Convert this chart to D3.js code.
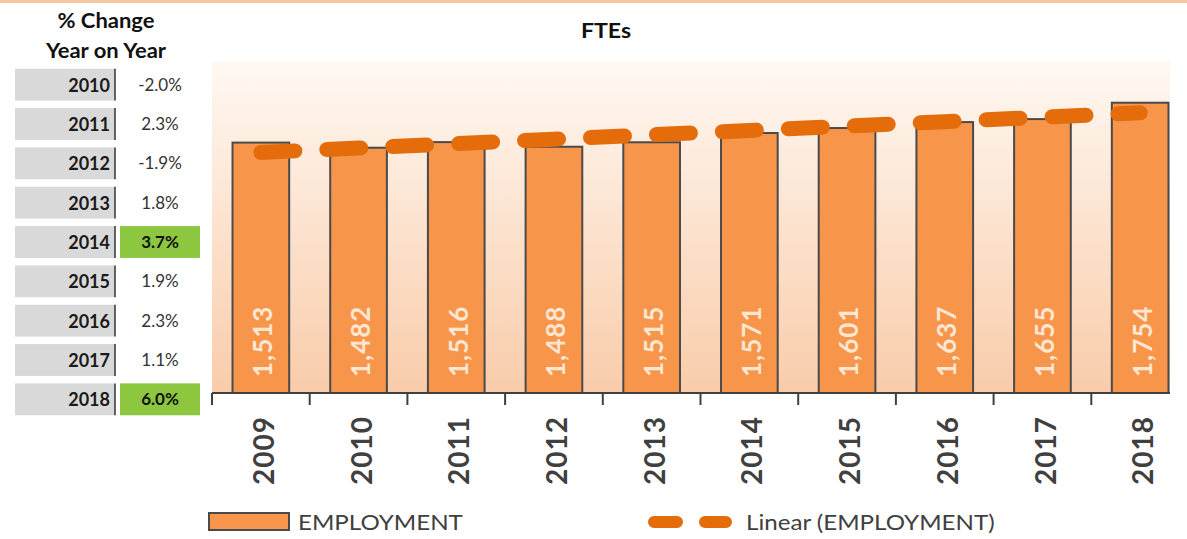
<!DOCTYPE html>
<html>
<head>
<meta charset="utf-8">
<script src="https://cdn.jsdelivr.net/npm/d3@7"></script>
<style>
  body { margin: 0; background: #fff; }
  svg text { font-family: Lato, "Open Sans", sans-serif; }
</style>
</head>
<body>
<div id="chart"></div>
<script>
(function() {
  // chart data
  var years = ["2009", "2010", "2011", "2012", "2013", "2014", "2015", "2016", "2017", "2018"]
  var employment = [1513, 1482, 1516, 1488, 1515, 1571, 1601, 1637, 1655, 1754]

  // % change table
  var changeYears = ["2010", "2011", "2012", "2013", "2014", "2015", "2016", "2017", "2018"]
  var changeValues = ["-2.0%", "2.3%", "-1.9%", "1.8%", "3.7%", "1.9%", "2.3%", "1.1%", "6.0%"]
  var highlightYears = ["2014", "2018"]

  var width = 1187, height = 539
  var plotLeft = 212, plotRight = 1170, plotTop = 62, baseY = 393

  var svg = d3.select("#chart").append("svg")
      .attr("width", width)
      .attr("height", height)

  var defs = svg.append("defs")
  var grad = defs.append("linearGradient")
      .attr("id", "bg").attr("x1", 0).attr("y1", 0).attr("x2", 0).attr("y2", 1)
  grad.append("stop").attr("offset", "0%").attr("stop-color", "#fff8f2")
  grad.append("stop").attr("offset", "100%").attr("stop-color", "#f9ccaa")

  // stretch text a bit horizontally, like the source image
  function stretch(sel, x, y, k) {
    sel.attr("transform", "translate(" + x + "," + y + ") scale(" + (k || 1.15) + ",1)")
  }

  // top border
  svg.append("rect")
    .attr("x", 0).attr("y", 0).attr("width", width).attr("height", 3)
    .attr("fill", "#f6c6a0")

  // scales
  var xScale = d3.scaleBand()
      .domain(years)
      .range([plotLeft, 1189])
      .paddingInner(0.42)
      .paddingOuter(0.21)

  var yScale = d3.scaleLinear()
      .domain([0, 2000])
      .range([baseY, plotTop])

  // plot background
  svg.append("rect")
    .attr("x", plotLeft).attr("y", plotTop)
    .attr("width", plotRight - plotLeft).attr("height", baseY - plotTop)
    .attr("fill", "url(#bg)")

  // title
  svg.append("text")
    .call(stretch, 606, 38, 1.1)
    .attr("text-anchor", "middle")
    .attr("font-size", 21).attr("font-weight", "bold")
    .attr("fill", "#111")
    .text("FTEs")

  // bars
  svg.selectAll(".bar")
    .data(employment)
    .enter().append("rect")
    .attr("class", "bar")
    .attr("x", function(d, i) { return xScale(years[i]) })
    .attr("y", d => yScale(d))
    .attr("width", xScale.bandwidth())
    .attr("height", d => baseY - yScale(d))
    .attr("fill", "#f7964a")
    .attr("stroke", "#4a4a4a")
    .attr("stroke-width", 2)

  // bar labels (inside base, rotated)
  svg.selectAll(".bar-label")
    .data(employment)
    .enter().append("text")
    .attr("class", "bar-label")
    .attr("transform", function(d, i) {
      var cx = xScale(years[i]) + xScale.bandwidth() / 2 + 2
      return "translate(" + cx + "," + (baseY - 16) + ") rotate(-90)"
    })
    .attr("dy", "0.36em")
    .attr("font-size", 26).attr("font-weight", "bold")
    .attr("letter-spacing", 1)
    .attr("fill", "#fde6d2")
    .text(d => d3.format(",")(d))

  // linear trend line
  var n = employment.length
  var xm = (n + 1) / 2
  var ym = d3.mean(employment)
  var sxy = d3.sum(employment, (d, i) => (i + 1 - xm) * (d - ym))
  var sxx = d3.sum(employment, (d, i) => (i + 1 - xm) * (i + 1 - xm))
  var slope = sxy / sxx
  var trend = employment.map((d, i) => ym + slope * (i + 1 - xm))

  var line = d3.line()
      .x((d, i) => xScale(years[i]) + xScale.bandwidth() / 2)
      .y(d => yScale(d))

  svg.append("path")
    .datum(trend)
    .attr("d", line)
    .attr("fill", "none")
    .attr("stroke", "#e46c0a")
    .attr("stroke-width", 15)
    .attr("stroke-linecap", "round")
    .attr("stroke-dasharray", "34,32")

  // x axis
  var axis = svg.append("g").attr("class", "axis x-axis")
  axis.append("line")
    .attr("x1", plotLeft).attr("x2", plotRight)
    .attr("y1", baseY).attr("y2", baseY)
    .attr("stroke", "#404040").attr("stroke-width", 2)

  axis.selectAll(".tick-mark")
    .data(years)
    .enter().append("line")
    .attr("class", "tick-mark")
    .attr("x1", d => xScale(d) - xScale.step() * 0.21)
    .attr("x2", d => xScale(d) - xScale.step() * 0.21)
    .attr("y1", baseY).attr("y2", baseY + 12)
    .attr("stroke", "#404040").attr("stroke-width", 2)

  axis.selectAll(".tick-label")
    .data(years)
    .enter().append("text")
    .attr("class", "tick-label")
    .attr("transform", function(d) {
      var cx = xScale(d) + xScale.bandwidth() / 2 + 3
      return "translate(" + cx + ",416) rotate(-90)"
    })
    .attr("dy", "0.36em")
    .attr("text-anchor", "end")
    .attr("font-size", 28).attr("font-weight", "bold")
    .attr("letter-spacing", 1)
    .attr("fill", "#404040")
    .text(d => d)

  // legend
  var legend = svg.append("g").attr("class", "legend")
  legend.append("rect")
    .attr("x", 209).attr("y", 513).attr("width", 80).attr("height", 17)
    .attr("fill", "#f7964a").attr("stroke", "#4a4a4a").attr("stroke-width", 2)
  legend.append("text")
    .call(stretch, 298, 530)
    .attr("font-size", 21).attr("fill", "#404040")
    .text("EMPLOYMENT")

  legend.append("line")
    .attr("x1", 654).attr("x2", 726).attr("y1", 522).attr("y2", 522)
    .attr("stroke", "#e46c0a").attr("stroke-width", 12)
    .attr("stroke-linecap", "round")
    .attr("stroke-dasharray", "23,28")
  legend.append("text")
    .call(stretch, 746, 530)
    .attr("font-size", 21).attr("fill", "#404040")
    .text("Linear (EMPLOYMENT)")

  // % change table
  var table = svg.append("g").attr("class", "change-table")
  table.append("text")
    .call(stretch, 106, 28, 1.1)
    .attr("text-anchor", "middle")
    .attr("font-size", 20).attr("font-weight", "bold").attr("fill", "#111")
    .text("% Change")
  table.append("text")
    .call(stretch, 106, 58, 1.1)
    .attr("text-anchor", "middle")
    .attr("font-size", 20).attr("font-weight", "bold").attr("fill", "#111")
    .text("Year on Year")

  var rowY = d3.scaleBand()
      .domain(changeYears)
      .range([65, 419])
      .paddingInner(0.19)
      .paddingOuter(0.095)

  var rows = table.selectAll(".row")
    .data(changeYears)
    .enter().append("g")
    .attr("class", "row")
    .attr("transform", d => "translate(0," + rowY(d) + ")")

  var rh = rowY.bandwidth()

  rows.append("rect")
    .attr("x", 15).attr("y", 0).attr("width", 100).attr("height", rh)
    .attr("fill", "#d9d9d9")
  rows.append("line")
    .attr("x1", 115).attr("x2", 115).attr("y1", 0).attr("y2", rh)
    .attr("stroke", "#333").attr("stroke-width", 1.5)
  rows.append("rect")
    .attr("x", 120).attr("y", 0).attr("width", 80).attr("height", rh)
    .attr("fill", d => highlightYears.indexOf(d) >= 0 ? "#8dc63f" : "none")
  rows.append("text")
    .attr("x", 110).attr("y", rh / 2 + 7)
    .attr("text-anchor", "end")
    .attr("font-size", 18).attr("font-weight", "bold").attr("fill", "#1a1a1a")
    .text(d => d)
  rows.append("text")
    .attr("x", 160).attr("y", rh / 2 + 6)
    .attr("text-anchor", "middle")
    .attr("font-size", 17)
    .attr("font-weight", d => highlightYears.indexOf(d) >= 0 ? "bold" : "normal")
    .attr("fill", d => highlightYears.indexOf(d) >= 0 ? "#111" : "#333")
    .text((d, i) => changeValues[i])
})()
</script>
</body>
</html>
